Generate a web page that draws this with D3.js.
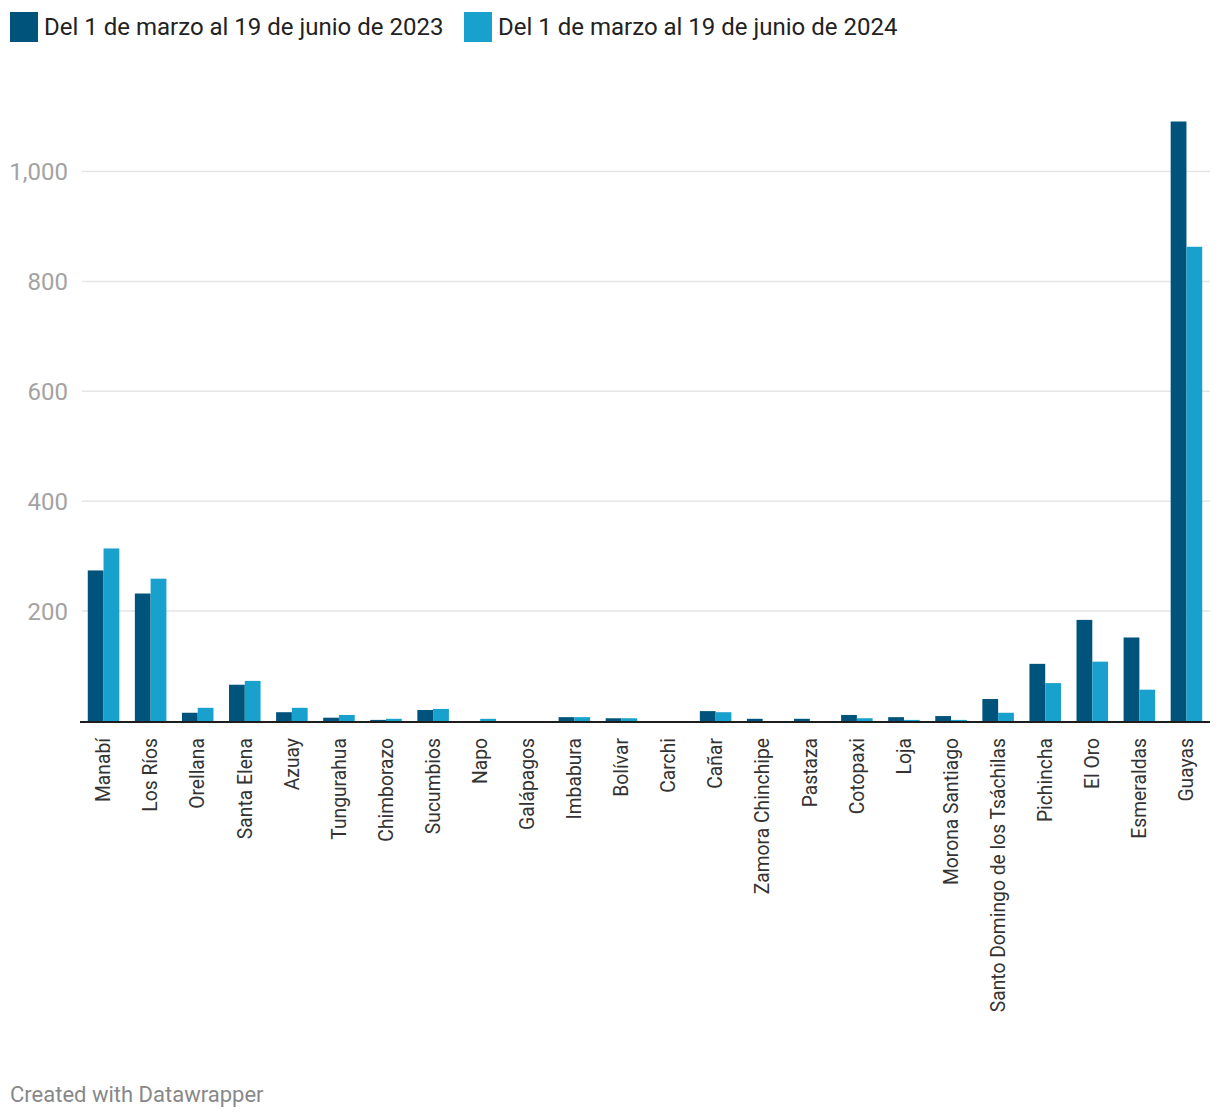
<!DOCTYPE html>
<html><head><meta charset="utf-8">
<script src="https://cdn.jsdelivr.net/npm/d3@7"></script>
<style>
body{margin:0;background:#fff;font-family:Roboto,"Noto Sans",sans-serif;}
</style></head>
<body><svg id="c" width="1220" height="1120"></svg>
<script>
const categories = ["Manabí","Los Ríos","Orellana","Santa Elena","Azuay","Tungurahua","Chimborazo","Sucumbios","Napo","Galápagos","Imbabura","Bolívar","Carchi","Cañar","Zamora Chinchipe","Pastaza","Cotopaxi","Loja","Morona Santiago","Santo Domingo de los Tsáchilas","Pichincha","El Oro","Esmeraldas","Guayas"];
const series2023 = [274,232,15,66,16,6,2,20,0,0,7,5,0,18,4,4,11,7,9,40,104,184,152,1091];
const series2024 = [314,259,24,73,24,11,4,22,4,0,7,5,0,16,0,0,5,2,2,15,69,108,57,863];
const seriesNames = ["Del 1 de marzo al 19 de junio de 2023","Del 1 de marzo al 19 de junio de 2024"];
const colors = ["#00547c","#18a1cd"];
const yTicks = [200,400,600,800,1000];

const svg = d3.select("#c");
const x0 = 80, x1 = 1210, yBase = 721;
const x = d3.scaleBand().domain(categories).range([x0,x1]).paddingInner(0.33).paddingOuter(0.165);
const xs = d3.scaleBand().domain([0,1]).range([0,x.bandwidth()]);
const y = d3.scaleLinear().domain([0,1000]).range([yBase,171.5]);

// grid
const g = svg.append("g");
g.selectAll("line.grid").data(yTicks).join("line")
  .attr("x1",82).attr("x2",x1).attr("y1",d=>y(d)).attr("y2",d=>y(d))
  .attr("stroke","#e5e5e5").attr("stroke-width",1.5);
g.selectAll("text.yl").data(yTicks).join("text")
  .attr("x",68).attr("y",d=>y(d)).attr("dy","0.35em").attr("text-anchor","end")
  .attr("font-size",24).attr("fill","#a3a3a3").text(d=>d3.format(",")(d));

// bars
const data = categories.map((c,i)=>({c, v:[series2023[i],series2024[i]]}));
const grp = svg.append("g").selectAll("g").data(data).join("g")
  .attr("transform",d=>`translate(${x(d.c)},0)`);
grp.selectAll("rect").data(d=>d.v.map((v,k)=>({v,k}))).join("rect")
  .attr("x",d=>xs(d.k)).attr("width",xs.bandwidth())
  .attr("y",d=>y(d.v)).attr("height",d=>yBase-y(d.v))
  .attr("fill",d=>colors[d.k]);

// baseline
svg.append("line").attr("x1",x0).attr("x2",x1).attr("y1",yBase+1).attr("y2",yBase+1)
  .attr("stroke","#1d1d1d").attr("stroke-width",2);

// x labels
svg.append("g").selectAll("text").data(categories).join("text")
  .attr("transform",d=>`translate(${x(d)+x.bandwidth()/2},738) rotate(-90)`)
  .attr("dy","0.35em").attr("text-anchor","end")
  .attr("font-size",19.3).attr("fill","#333").text(d=>d);

// legend
const lg = svg.append("g");
const lx = [10,464];
seriesNames.forEach((n,i)=>{
  lg.append("rect").attr("x",lx[i]).attr("y",12).attr("width",28).attr("height",30).attr("fill",colors[i]);
  lg.append("text").attr("x",lx[i]+34).attr("y",35).attr("font-size",24).attr("fill","#222").text(n);
});

// footer
svg.append("text").attr("x",10).attr("y",1102).attr("font-size",22).attr("fill","#888").text("Created with Datawrapper");
</script></body></html>
